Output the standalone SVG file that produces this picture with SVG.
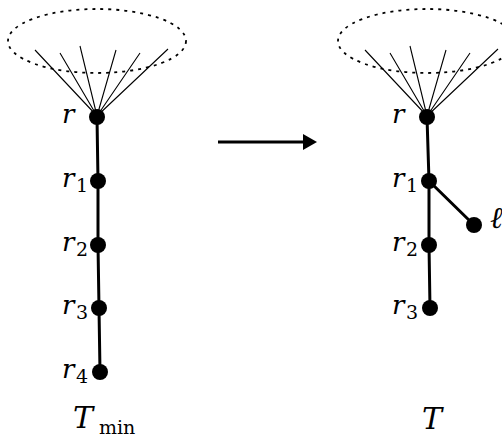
<svg xmlns="http://www.w3.org/2000/svg" width="502" height="438" viewBox="0 0 502 438">
<style>
.edge{stroke:#000;stroke-width:3;fill:none}
.fan{stroke:#000;stroke-width:1.1;fill:none}
.dots{stroke:#000;stroke-width:1.8;fill:none;stroke-dasharray:3 5}
.dot{fill:#000}
.lbl{font-style:italic;font-size:26px;fill:#000}
.big{font-style:italic;font-size:30px;fill:#000}
.sub{font-style:normal;font-size:19px;fill:#000}
</style>
<rect width="502" height="438" fill="#fff"/>
<g id="connectors">
  <ellipse class="dots" cx="97" cy="41" rx="89" ry="32"/>
  <path class="fan" d="M97,116 L35,50 M97,116 L60,53 M97,116 L80,46 M97,116 L116,50 M97,116 L140,53 M97,116 L168,49"/>
  <path class="edge" d="M97,117 L98,181 L98,245 L99,308 L100,372"/>
  <ellipse class="dots" cx="427" cy="41" rx="89" ry="32"/>
  <path class="fan" d="M427,116 L365,50 M427,116 L390,53 M427,116 L410,46 M427,116 L446,50 M427,116 L470,53 M427,116 L498,49"/>
  <path class="edge" d="M427,117 L429,181 L429,245 L430,308 M429,181 L474,225"/>
  <line class="edge" x1="218" y1="142" x2="305" y2="142"/>
  <polygon points="303,134 317,142 303,150" fill="#000"/>
</g>
<g font-family="'DejaVu Serif', 'Liberation Serif', serif">
<g id="left-r"><circle class="dot" cx="97" cy="117" r="8"/><text class="lbl" x="62" y="123">r</text></g>
<g id="left-r1"><circle class="dot" cx="98" cy="181" r="8"/><text class="lbl" x="62" y="187">r</text><text class="sub" x="76" y="192">1</text></g>
<g id="left-r2"><circle class="dot" cx="98" cy="245" r="8"/><text class="lbl" x="62" y="251">r</text><text class="sub" x="76" y="256">2</text></g>
<g id="left-r3"><circle class="dot" cx="99" cy="308" r="8"/><text class="lbl" x="62" y="314">r</text><text class="sub" x="76" y="319">3</text></g>
<g id="left-r4"><circle class="dot" cx="100" cy="372" r="8"/><text class="lbl" x="62" y="378">r</text><text class="sub" x="76" y="383">4</text></g>
<g id="label-Tmin"><text class="big" x="73" y="428">T</text><text class="sub" x="99" y="434">min</text></g>
<g id="right-r"><circle class="dot" cx="427" cy="117" r="8"/><text class="lbl" x="392" y="123">r</text></g>
<g id="right-r1"><circle class="dot" cx="429" cy="181" r="8"/><text class="lbl" x="392" y="187">r</text><text class="sub" x="406" y="192">1</text></g>
<g id="right-r2"><circle class="dot" cx="429" cy="245" r="8"/><text class="lbl" x="392" y="251">r</text><text class="sub" x="406" y="256">2</text></g>
<g id="right-r3"><circle class="dot" cx="430" cy="308" r="8"/><text class="lbl" x="392" y="314">r</text><text class="sub" x="406" y="319">3</text></g>
<g id="right-l"><circle class="dot" cx="474" cy="225" r="8"/><text class="big" x="490" y="228">ℓ</text></g>
<g id="label-T"><text class="big" x="422" y="429">T</text></g>
</g>
</svg>
